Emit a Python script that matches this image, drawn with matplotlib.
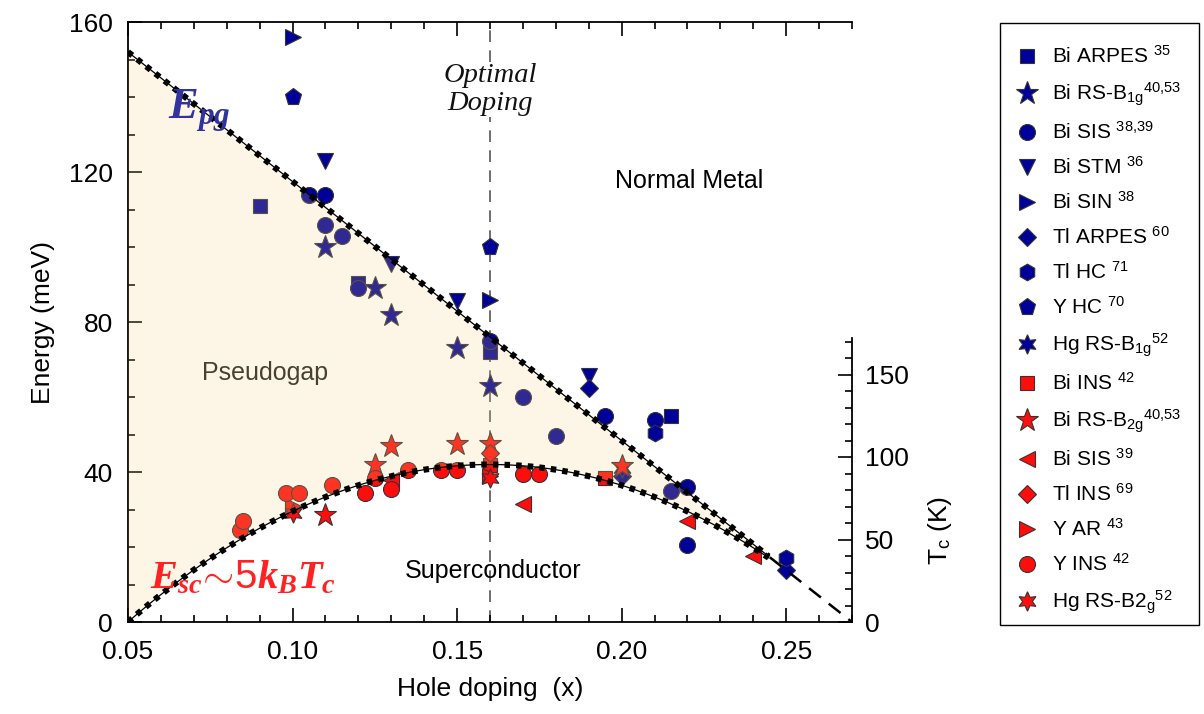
import numpy as np
import matplotlib
matplotlib.use("Agg")
import matplotlib.pyplot as plt
from matplotlib.ticker import MultipleLocator, FixedLocator
from matplotlib.patches import Rectangle

plt.rcParams['font.family'] = ['Liberation Sans', 'DejaVu Sans']
plt.rcParams['mathtext.fontset'] = 'custom'
plt.rcParams['mathtext.rm'] = 'Liberation Sans'
plt.rcParams['mathtext.it'] = 'Liberation Serif:italic:bold'
plt.rcParams['mathtext.bf'] = 'Liberation Serif:bold'

NAVY = '#000099'
RED = '#ff0d0d'

# guide curves
EPG_AT_005 = 152.0      # pseudogap line value at x = 0.05
X_END = 0.27            # pseudogap line and Tc dome reach zero here
ESC_MAX = 42.0          # dome maximum at optimal doping
X_OPT = 0.16
X_DOT_END = 0.245       # where the dotted lines stop
TC_PER_MEV = 1 / 0.44   # right axis: Tc (K) per meV

# data: (hole doping, energy meV)
bi_arpes_x = [0.09, 0.12, 0.16, 0.215]
bi_arpes_e = [111, 90.5, 72, 55]
bi_rs_b1g_x = [0.11, 0.125, 0.13, 0.15, 0.16]
bi_rs_b1g_e = [100, 89, 82, 73, 63]
bi_sis_x = [0.105, 0.11, 0.11, 0.115, 0.12, 0.16, 0.17, 0.18, 0.195, 0.21, 0.215, 0.22, 0.22]
bi_sis_e = [114, 114, 106, 103, 89, 75, 60, 49.5, 55, 54, 35, 36, 20.5]
bi_stm_x = [0.11, 0.13, 0.15, 0.19]
bi_stm_e = [123, 95.5, 85.5, 65.5]
bi_sin_x = [0.10, 0.16]
bi_sin_e = [156, 86]
tl_arpes_x = [0.19, 0.20, 0.25]
tl_arpes_e = [62.5, 39, 14]
tl_hc_x = [0.21, 0.25]
tl_hc_e = [50.5, 17]
y_hc_x = [0.10, 0.16]
y_hc_e = [140, 100]
hg_rs_b1g_x = [0.20]
hg_rs_b1g_e = [41]

bi_ins_x = [0.16, 0.195]
bi_ins_e = [42, 38.5]
bi_rs_b2g_x = [0.11, 0.125, 0.13, 0.15, 0.16, 0.20]
bi_rs_b2g_e = [28.5, 42, 47, 47.5, 47.5, 41.5]
bi_sis_red_x = [0.13, 0.17, 0.22, 0.24]
bi_sis_red_e = [38, 31.5, 27, 17.5]
tl_ins_x = [0.16]
tl_ins_e = [45]
y_ar_x = [0.10, 0.16]
y_ar_e = [31, 39]
y_ins_x = [0.084, 0.085, 0.098, 0.102, 0.112, 0.122, 0.125, 0.13, 0.135, 0.145, 0.15, 0.17, 0.175]
y_ins_e = [24.5, 27, 34.5, 34.5, 36.5, 34.5, 38.5, 35.5, 40.5, 40.5, 40.5, 39.5, 39.5]
hg_rs_b2g_x = [0.10, 0.16]
hg_rs_b2g_e = [29, 38.5]

HEX6 = (6, 1, 0)
series = [
    (bi_arpes_x, bi_arpes_e, 's', 10, NAVY, r'Bi ARPES $^{35}$'),
    (bi_rs_b1g_x, bi_rs_b1g_e, '*', 17, NAVY, r'Bi RS-B$_{\mathrm{1g}}$$^{40{,}53}$'),
    (bi_sis_x, bi_sis_e, 'o', 11.5, NAVY, r'Bi SIS $^{38{,}39}$'),
    (bi_stm_x, bi_stm_e, 'v', 12, NAVY, r'Bi STM $^{36}$'),
    (bi_sin_x, bi_sin_e, '>', 12, NAVY, r'Bi SIN $^{38}$'),
    (tl_arpes_x, tl_arpes_e, 'D', 9, NAVY, r'Tl ARPES $^{60}$'),
    (tl_hc_x, tl_hc_e, 'h', 12, NAVY, r'Tl HC $^{71}$'),
    (y_hc_x, y_hc_e, 'p', 12.5, NAVY, r'Y HC $^{70}$'),
    (hg_rs_b1g_x, hg_rs_b1g_e, HEX6, 14, NAVY, r'Hg RS-B$_{\mathrm{1g}}$$^{52}$'),
    (bi_ins_x, bi_ins_e, 's', 10, RED, r'Bi INS $^{42}$'),
    (bi_rs_b2g_x, bi_rs_b2g_e, '*', 17, RED, r'Bi RS-B$_{\mathrm{2g}}$$^{40{,}53}$'),
    (bi_sis_red_x, bi_sis_red_e, '<', 12, RED, r'Bi SIS $^{39}$'),
    (tl_ins_x, tl_ins_e, 'D', 9, RED, r'Tl INS $^{69}$'),
    (y_ar_x, y_ar_e, '>', 12, RED, r'Y AR $^{43}$'),
    (y_ins_x, y_ins_e, 'o', 11.5, RED, r'Y INS $^{42}$'),
    (hg_rs_b2g_x, hg_rs_b2g_e, HEX6, 14, RED, r'Hg RS-B2$_{\mathrm{g}}$$^{52}$'),
]

W, H = 1204, 714
fig = plt.figure(figsize=(W / 100, H / 100), dpi=100)
ax = fig.add_axes([128 / W, 92 / H, 724 / W, 600 / H])

handles = []
for xs, es, mk, ms, col, lab in series:
    h, = ax.plot(xs, es, linestyle='none', marker=mk, markersize=ms,
                 markerfacecolor=col, markeredgecolor='#333333',
                 markeredgewidth=0.8, label=lab, zorder=2)
    handles.append(h)


def e_pg(x):
    return EPG_AT_005 * (X_END - x) / (X_END - 0.05)


def e_sc(x):
    return ESC_MAX * (1 - 82.6 * (x - X_OPT) ** 2)


xx = np.linspace(0.05, X_END, 600)
pg = e_pg(xx)
sc = np.clip(e_sc(xx), 0, None)
# translucent cream overlay on top of the markers (tints them like the original)
ax.fill_between(xx, sc, pg, where=pg > sc, color='#f5d282', alpha=0.2,
                linewidth=0, zorder=3)

xd = xx[xx <= X_DOT_END]
for yd in (e_pg(xd), e_sc(xd)):
    ax.plot(xd, yd, color='black', lw=0.9, zorder=4)
    ax.plot(xd, yd, color='black', lw=4.4, linestyle=(0, (0.9, 1.0)), zorder=4)
xdash = xx[xx >= X_DOT_END]
ax.plot(xdash, e_pg(xdash), color='black', lw=1.8, linestyle=(0, (6, 4)), zorder=4)

ax.axvline(X_OPT, color='#555555', lw=1.2, linestyle=(0, (7, 5)), zorder=1)

# labels inside the plot
ax.text(0.0621, 134, r'$E_{pg}$', color='#33339f', fontsize=32, zorder=5)
ax.text(0.0567, 9, r'$E_{sc}\!\sim\!\mathit{5}k_BT_c$', color='#ff2222', fontsize=29, zorder=5)
ax.text(X_OPT, 142, 'Optimal\nDoping', family='Liberation Serif', style='italic',
        fontsize=20.5, ha='center', va='center', linespacing=1.12, color='#111111',
        bbox=dict(facecolor='white', edgecolor='none', pad=1), zorder=1.5)
ax.text(0.2206, 117.5, 'Normal Metal', fontsize=18, ha='center', va='center', zorder=5)
ax.text(0.0916, 66.5, 'Pseudogap', fontsize=18, ha='center', va='center',
        color='#1e1e1e', zorder=2)
ax.text(0.161, 13.5, 'Superconductor', fontsize=18, ha='center', va='center', zorder=5)

ax.set_xlim(0.05, X_END)
ax.set_ylim(0, 160)
ax.set_xticks([0.05, 0.10, 0.15, 0.20, 0.25])
ax.set_xticklabels(['0.05', '0.10', '0.15', '0.20', '0.25'])
ax.xaxis.set_minor_locator(MultipleLocator(0.01))
ax.set_yticks([0, 40, 80, 120, 160])
ax.yaxis.set_minor_locator(MultipleLocator(10))
ax.tick_params(which='both', direction='in', top=True, right=False, labelsize=19,
               width=1.2)
ax.tick_params(which='major', length=10)
ax.tick_params(which='minor', length=5)
ax.tick_params(axis='x', which='major', pad=13)
ax.tick_params(axis='y', which='major', pad=11)
ax.spines['right'].set_visible(False)
for s in ('left', 'bottom', 'top'):
    ax.spines[s].set_linewidth(1.3)
ax.set_xlabel('Hole doping  (x)', fontsize=19, labelpad=9)
ax.set_ylabel('Energy (meV)', fontsize=19, labelpad=10)

ax2 = ax.twinx()
ax2.set_ylim(0, 160 * TC_PER_MEV)
ax2.set_yticks([0, 50, 100, 150])
ax2.yaxis.set_minor_locator(FixedLocator(list(range(0, 171, 10))))
for s in ('left', 'top', 'bottom'):
    ax2.spines[s].set_visible(False)
ax2.spines['right'].set_bounds(0, 172)
ax2.spines['right'].set_linewidth(1.3)
ax2.tick_params(which='both', direction='in', labelsize=19, width=1.2)
ax2.tick_params(which='major', length=10, pad=9)
ax2.tick_params(which='minor', length=5)
fig.text(940 / W, 1 - 530 / H, r'T$_\mathrm{c}$ (K)', fontsize=19,
         rotation=90, ha='center', va='center')

# legend without its own frame; the box is drawn separately
leg = fig.legend(handles=handles, loc='upper left',
                 bbox_to_anchor=(1014 / W, 1 - 46 / H),
                 borderaxespad=0, borderpad=0, fontsize=15, frameon=False,
                 labelspacing=0.66, handletextpad=0.6, handlelength=1.2)
fig.patches.append(Rectangle((1000 / W, 1 - 625 / H), 199 / W, 602 / H,
                             transform=fig.transFigure, fill=False,
                             edgecolor='black', linewidth=1.0))

fig.savefig('out.png', dpi=100)
